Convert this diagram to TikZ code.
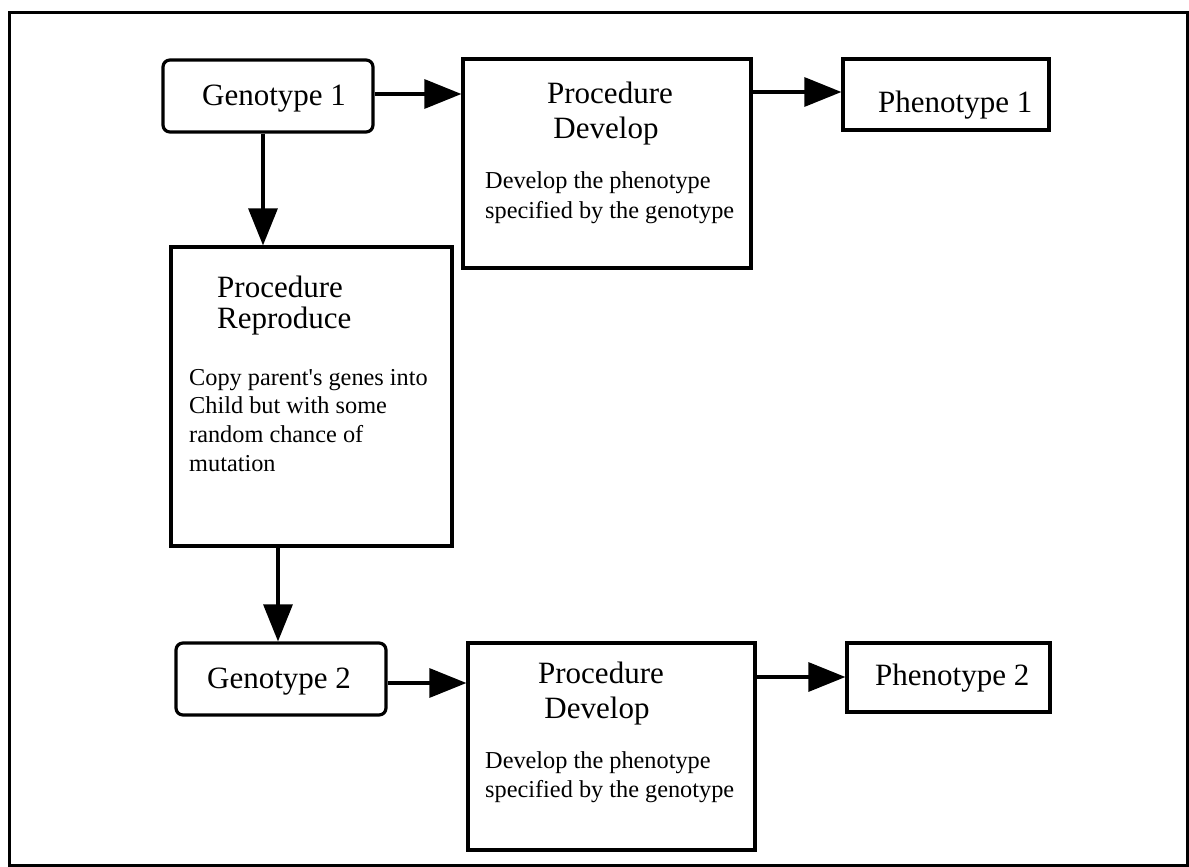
\documentclass[tikz,border=0pt]{standalone}
\usepackage{fontspec}
\setmainfont{Liberation Serif}
\usetikzlibrary{arrows.meta}
\newcommand{\titlesz}{\fontsize{31}{35}\selectfont}
\newcommand{\bodysz}{\fontsize{24.3}{29}\selectfont}
\tikzset{
  box/.style={draw, line width=3.2pt, inner sep=0pt, minimum width=#1},
  gbox/.style={box=#1, rounded corners=7pt},
  conn/.style={line width=3.2pt, -{Triangle[length=37pt,width=29pt]}},
  ttl/.style={inner sep=0pt, font=\titlesz},
  bdy/.style={inner sep=0pt, font=\bodysz, anchor=base west},
}
\begin{document}
\begin{tikzpicture}[x=1pt,y=-1pt]
\useasboundingbox (0,0) rectangle (1189,867);
\draw[line width=3pt] (9,13) rectangle (1187,865);
% boxes
\node[gbox=210pt, minimum height=72pt] (g1) at (268,96) {};
\node[box=288pt, minimum height=209pt] (d1) at (607,163.5) {};
\node[box=206pt, minimum height=71pt] (p1) at (946,94.5) {};
\node[box=281pt, minimum height=299pt] (r) at (311.5,396.5) {};
\node[gbox=210pt, minimum height=72pt] (g2) at (281,679) {};
\node[box=287pt, minimum height=207pt] (d2) at (611.5,746.5) {};
\node[box=203pt, minimum height=69pt] (p2) at (948.5,677.5) {};
% texts
\node[ttl, anchor=base west] (g1t) at (202,105) {Genotype 1};
\node[ttl, anchor=base] (d1t1) at (610,103) {Procedure};
\node[ttl, anchor=base] (d1t2) at (606,138) {Develop};
\node[bdy] (d1b1) at (485,188) {Develop the phenotype};
\node[bdy] (d1b2) at (485,218) {specified by the genotype};
\node[ttl, anchor=base west] (p1t) at (878,113) {Phenotype 1};
\node[ttl, anchor=base west] (rt1) at (217,297) {Procedure};
\node[ttl, anchor=base west] (rt2) at (217,328) {Reproduce};
\node[bdy] (rb1) at (189,385) {Copy parent\textquotesingle s genes into};
\node[bdy] (rb2) at (189,413) {Child but with some};
\node[bdy] (rb3) at (189,442) {random chance of};
\node[bdy] (rb4) at (189,471) {mutation};
\node[ttl, anchor=base west] (g2t) at (207,688) {Genotype 2};
\node[ttl, anchor=base] (d2t1) at (601,683) {Procedure};
\node[ttl, anchor=base] (d2t2) at (597,718) {Develop};
\node[bdy] (d2b1) at (485,768) {Develop the phenotype};
\node[bdy] (d2b2) at (485,797) {specified by the genotype};
\node[ttl, anchor=base west] (p2t) at (875,685) {Phenotype 2};
% connectors
\draw[conn] (g1.east |- 0,94) -- (d1.west |- 0,94);
\draw[conn] (d1.east |- 0,92) -- (p1.west |- 0,92);
\draw[conn] (g1.south -| 263,0) -- (r.north -| 263,0);
\draw[conn] (r.south -| 278,0) -- (g2.north -| 278,0);
\draw[conn] (g2.east |- 0,683) -- (d2.west |- 0,683);
\draw[conn] (d2.east |- 0,677) -- (p2.west |- 0,677);
\end{tikzpicture}
\end{document}
